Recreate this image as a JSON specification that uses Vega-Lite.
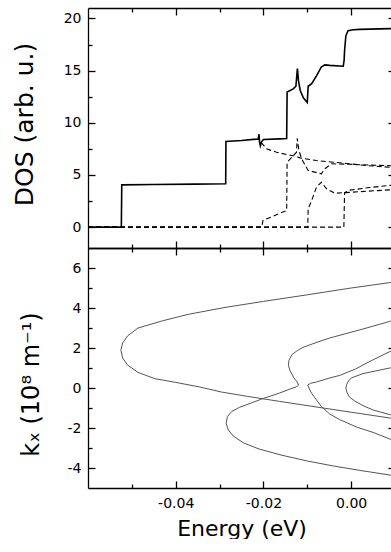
{
  "$schema": "https://vega.github.io/schema/vega-lite/v6.json",
  "padding": {"left": 12, "top": 7, "right": 0, "bottom": 0},
  "spacing": 0,
  "bounds": "flush",
  "config": {
    "view": {"stroke": null},
    "axis": {
      "grid": false,
      "domainColor": "black",
      "domainWidth": 1.3,
      "tickColor": "black",
      "tickWidth": 1.3,
      "labelFont": "DejaVu Sans",
      "labelFontSize": 14,
      "labelColor": "black",
      "titleFont": "DejaVu Sans",
      "titleFontWeight": "normal",
      "titleColor": "black",
      "minExtent": 0
    }
  },
  "datasets": {
    "solid": [
      {"E": -0.06, "v": 0}, {"E": -0.0524, "v": 0}, {"E": -0.0523, "v": 4.05}, {"E": -0.045, "v": 4.08},
      {"E": -0.0355, "v": 4.12}, {"E": -0.0286, "v": 4.15}, {"E": -0.02855, "v": 8.2}, {"E": -0.025, "v": 8.3},
      {"E": -0.0212, "v": 8.45}, {"E": -0.021, "v": 8.9}, {"E": -0.0209, "v": 8.2}, {"E": -0.0207, "v": 7.8},
      {"E": -0.0204, "v": 8.2}, {"E": -0.02, "v": 8.4}, {"E": -0.0163, "v": 8.46}, {"E": -0.0147, "v": 8.5},
      {"E": -0.0146, "v": 12.95}, {"E": -0.0132, "v": 13.25}, {"E": -0.0126, "v": 13.5}, {"E": -0.01225, "v": 15.2},
      {"E": -0.012, "v": 14.0}, {"E": -0.0116, "v": 13.1}, {"E": -0.0109, "v": 12.4}, {"E": -0.01, "v": 11.95},
      {"E": -0.0098, "v": 13.5}, {"E": -0.009, "v": 13.75}, {"E": -0.0079, "v": 14.5}, {"E": -0.0068, "v": 15.35},
      {"E": -0.006, "v": 15.55}, {"E": -0.0049, "v": 15.5}, {"E": -0.0018, "v": 15.42}, {"E": -0.0016, "v": 16.0},
      {"E": -0.0015, "v": 16.9}, {"E": -0.0012, "v": 18.34}, {"E": -0.0007, "v": 18.82}, {"E": 0.0005, "v": 18.92},
      {"E": 0.002, "v": 18.95}, {"E": 0.0088, "v": 19.02}, {"E": 0.01, "v": 19.03}
    ],
    "dashed": [
      {"s": "A", "E": -0.0205, "v": 8.1}, {"s": "A", "E": -0.0193, "v": 7.5}, {"s": "A", "E": -0.017, "v": 7.18},
      {"s": "A", "E": -0.0147, "v": 6.96}, {"s": "A", "E": -0.0125, "v": 6.77}, {"s": "A", "E": -0.0117, "v": 6.64},
      {"s": "A", "E": -0.0079, "v": 6.38}, {"s": "A", "E": -0.0041, "v": 6.22}, {"s": "A", "E": -0.0003, "v": 6.07},
      {"s": "A", "E": 0.0035, "v": 5.9}, {"s": "A", "E": 0.0089, "v": 5.74}, {"s": "A", "E": 0.01, "v": 5.72},
      {"s": "B", "E": -0.06, "v": 0}, {"s": "B", "E": -0.0204, "v": 0}, {"s": "B", "E": -0.0201, "v": 0.64},
      {"s": "B", "E": -0.0147, "v": 1.6}, {"s": "B", "E": -0.0146, "v": 6.22}, {"s": "B", "E": -0.01245, "v": 7.18},
      {"s": "B", "E": -0.0123, "v": 8.5}, {"s": "B", "E": -0.0119, "v": 7.34}, {"s": "B", "E": -0.0113, "v": 6.55},
      {"s": "B", "E": -0.0098, "v": 5.43}, {"s": "B", "E": -0.0068, "v": 5.11}, {"s": "B", "E": -0.006, "v": 5.59},
      {"s": "B", "E": -0.0045, "v": 6.07}, {"s": "B", "E": -0.0003, "v": 6.02}, {"s": "B", "E": 0.0089, "v": 5.88},
      {"s": "B", "E": 0.01, "v": 5.87},
      {"s": "D", "E": -0.06, "v": 0}, {"s": "D", "E": -0.0099, "v": 0}, {"s": "D", "E": -0.0098, "v": 1.76},
      {"s": "D", "E": -0.009, "v": 2.55}, {"s": "D", "E": -0.0079, "v": 3.83}, {"s": "D", "E": -0.0068, "v": 4.3},
      {"s": "D", "E": -0.0056, "v": 3.67}, {"s": "D", "E": -0.0037, "v": 3.25}, {"s": "D", "E": -0.0016, "v": 3.3},
      {"s": "D", "E": 0.004, "v": 3.45}, {"s": "D", "E": 0.01, "v": 3.6},
      {"s": "F", "E": -0.06, "v": 0}, {"s": "F", "E": -0.00166, "v": 0}, {"s": "F", "E": -0.0015, "v": 3.3},
      {"s": "F", "E": -0.0003, "v": 3.55}, {"s": "F", "E": 0.0043, "v": 3.8}, {"s": "F", "E": 0.0089, "v": 4.0},
      {"s": "F", "E": 0.01, "v": 4.02}
    ],
    "kx": [
      {"c": "1", "E": 0.01, "k": 5.32}, {"c": "1", "E": 0.0088, "k": 5.27}, {"c": "1", "E": 0.0, "k": 5.0},
      {"c": "1", "E": -0.01, "k": 4.66}, {"c": "1", "E": -0.02, "k": 4.33}, {"c": "1", "E": -0.029, "k": 4.02},
      {"c": "1", "E": -0.0372, "k": 3.68}, {"c": "1", "E": -0.043, "k": 3.36}, {"c": "1", "E": -0.0486, "k": 3.0},
      {"c": "1", "E": -0.051, "k": 2.6}, {"c": "1", "E": -0.0521, "k": 2.25}, {"c": "1", "E": -0.0525, "k": 1.88},
      {"c": "1", "E": -0.0521, "k": 1.5}, {"c": "1", "E": -0.051, "k": 1.15}, {"c": "1", "E": -0.0486, "k": 0.78},
      {"c": "1", "E": -0.0448, "k": 0.47}, {"c": "1", "E": -0.04, "k": 0.28}, {"c": "1", "E": -0.0345, "k": 0.05},
      {"c": "1", "E": -0.0296, "k": -0.2}, {"c": "1", "E": -0.0236, "k": -0.42}, {"c": "1", "E": -0.0163, "k": -0.67},
      {"c": "1", "E": -0.0064, "k": -1.0}, {"c": "1", "E": 0.0, "k": -1.21}, {"c": "1", "E": 0.0088, "k": -1.5},
      {"c": "1", "E": 0.01, "k": -1.54},
      {"c": "2", "E": 0.01, "k": -4.39}, {"c": "2", "E": 0.0088, "k": -4.35}, {"c": "2", "E": 0.002, "k": -4.12},
      {"c": "2", "E": -0.004, "k": -3.9}, {"c": "2", "E": -0.01, "k": -3.65}, {"c": "2", "E": -0.016, "k": -3.35},
      {"c": "2", "E": -0.021, "k": -3.05}, {"c": "2", "E": -0.0245, "k": -2.75}, {"c": "2", "E": -0.0269, "k": -2.4},
      {"c": "2", "E": -0.028, "k": -2.1}, {"c": "2", "E": -0.0285, "k": -1.76}, {"c": "2", "E": -0.0282, "k": -1.42},
      {"c": "2", "E": -0.0272, "k": -1.17}, {"c": "2", "E": -0.0255, "k": -0.97}, {"c": "2", "E": -0.023, "k": -0.77},
      {"c": "2", "E": -0.0204, "k": -0.55}, {"c": "2", "E": -0.0163, "k": -0.25}, {"c": "2", "E": -0.014, "k": -0.06},
      {"c": "2", "E": -0.0125, "k": 0.06}, {"c": "2", "E": -0.012, "k": 0.14}, {"c": "2", "E": -0.0123, "k": 0.3},
      {"c": "2", "E": -0.0131, "k": 0.52}, {"c": "2", "E": -0.0139, "k": 0.85}, {"c": "2", "E": -0.0143, "k": 1.12},
      {"c": "2", "E": -0.0142, "k": 1.37}, {"c": "2", "E": -0.0135, "k": 1.67}, {"c": "2", "E": -0.0122, "k": 1.88},
      {"c": "2", "E": -0.011, "k": 2.03}, {"c": "2", "E": -0.008, "k": 2.27}, {"c": "2", "E": -0.0049, "k": 2.5},
      {"c": "2", "E": 0.0027, "k": 2.95}, {"c": "2", "E": 0.0088, "k": 3.33}, {"c": "2", "E": 0.01, "k": 3.4},
      {"c": "3", "E": 0.01, "k": 1.92}, {"c": "3", "E": 0.0088, "k": 1.82}, {"c": "3", "E": 0.004, "k": 1.3},
      {"c": "3", "E": 0.001, "k": 0.95}, {"c": "3", "E": -0.0026, "k": 0.63}, {"c": "3", "E": -0.0049, "k": 0.5},
      {"c": "3", "E": -0.0079, "k": 0.3}, {"c": "3", "E": -0.0092, "k": 0.24}, {"c": "3", "E": -0.0099, "k": 0.15},
      {"c": "3", "E": -0.0096, "k": 0.0}, {"c": "3", "E": -0.0092, "k": -0.2}, {"c": "3", "E": -0.0085, "k": -0.42},
      {"c": "3", "E": -0.0079, "k": -0.6}, {"c": "3", "E": -0.0068, "k": -0.92}, {"c": "3", "E": -0.0049, "k": -1.3},
      {"c": "3", "E": -0.0026, "k": -1.58}, {"c": "3", "E": 0.0012, "k": -1.95}, {"c": "3", "E": 0.005, "k": -2.22},
      {"c": "3", "E": 0.0088, "k": -2.55}, {"c": "3", "E": 0.01, "k": -2.62},
      {"c": "4", "E": 0.01, "k": 1.05}, {"c": "4", "E": 0.0088, "k": 1.0}, {"c": "4", "E": 0.0027, "k": 0.72},
      {"c": "4", "E": 0.0, "k": 0.5}, {"c": "4", "E": -0.0006, "k": 0.35}, {"c": "4", "E": -0.001, "k": 0.18},
      {"c": "4", "E": -0.0012, "k": 0.0}, {"c": "4", "E": -0.001, "k": -0.2}, {"c": "4", "E": -0.0004, "k": -0.45},
      {"c": "4", "E": 0.0008, "k": -0.65}, {"c": "4", "E": 0.0027, "k": -0.88}, {"c": "4", "E": 0.005, "k": -1.1},
      {"c": "4", "E": 0.0088, "k": -1.33}, {"c": "4", "E": 0.01, "k": -1.37}
    ]
  },
  "vconcat": [
    {
      "width": 307,
      "height": 240,
      "resolve": {"axis": {"x": "independent", "y": "independent"}},
      "layer": [
        {
          "data": {"name": "solid"},
          "mark": {"type": "line", "color": "black", "strokeWidth": 1.6, "clip": true},
          "encoding": {
            "x": {"field": "E", "type": "quantitative", "scale": {"domain": [-0.06, 0.01], "nice": false, "zero": false},
                  "axis": {"orient": "bottom", "ticks": false, "labels": false, "domain": true, "title": null, "values": [-0.04, -0.02, 0]}},
            "y": {"field": "v", "type": "quantitative", "scale": {"domain": [-2, 21], "nice": false, "zero": false},
                  "axis": {"orient": "left", "ticks": false, "domain": true, "values": [0, 5, 10, 15, 20], "title": "DOS (arb. u.)",
                           "titleFontSize": 25, "titlePadding": 26, "labelPadding": 7, "titleY": 116}},
            "order": {"value": null}
          }
        },
        {
          "data": {"name": "dashed"},
          "mark": {"type": "line", "color": "black", "strokeWidth": 1.1, "strokeDash": [5, 3], "clip": true},
          "encoding": {
            "x": {"field": "E", "type": "quantitative", "scale": {"domain": [-0.06, 0.01], "nice": false, "zero": false},
                  "axis": {"orient": "top", "offset": -240, "ticks": true, "tickSize": 7, "labels": false, "domain": false, "title": null, "values": [-0.04, -0.02, 0]}},
            "y": {"field": "v", "type": "quantitative", "scale": {"domain": [-2, 21], "nice": false, "zero": false},
                  "axis": {"orient": "right", "offset": -307, "ticks": true, "tickSize": 7, "labels": false, "domain": false, "title": null, "values": [0, 5, 10, 15, 20]}},
            "detail": {"field": "s"},
            "order": {"value": null}
          }
        },
        {
          "data": {"name": "solid"},
          "mark": {"type": "line", "opacity": 0, "clip": true},
          "encoding": {
            "x": {"field": "E", "type": "quantitative", "scale": {"domain": [-0.06, 0.01], "nice": false, "zero": false},
                  "axis": {"orient": "top", "offset": -240, "ticks": true, "tickSize": 4, "labels": false, "domain": false, "title": null, "values": [-0.05, -0.03, -0.01]}},
            "y": {"field": "v", "type": "quantitative", "scale": {"domain": [-2, 21], "nice": false, "zero": false},
                  "axis": {"orient": "right", "offset": -307, "ticks": true, "tickSize": 4, "labels": false, "domain": false, "title": null, "values": [2.5, 7.5, 12.5, 17.5]}},
            "order": {"value": null}
          }
        },
        {
          "data": {"name": "solid"},
          "mark": {"type": "line", "opacity": 0, "clip": true},
          "encoding": {
            "x": {"field": "E", "type": "quantitative", "scale": {"domain": [-0.06, 0.01], "nice": false, "zero": false},
                  "axis": {"orient": "bottom", "offset": -240, "ticks": true, "tickSize": 7, "labels": false, "domain": true, "title": null, "values": [-0.04, -0.02, 0]}},
            "y": {"field": "v", "type": "quantitative", "scale": {"domain": [-2, 21], "nice": false, "zero": false},
                  "axis": {"orient": "left", "offset": -307, "ticks": true, "tickSize": 7, "labels": false, "domain": true, "title": null, "values": [0, 5, 10, 15, 20]}},
            "order": {"value": null}
          }
        },
        {
          "data": {"name": "solid"},
          "mark": {"type": "line", "opacity": 0, "clip": true},
          "encoding": {
            "x": {"field": "E", "type": "quantitative", "scale": {"domain": [-0.06, 0.01], "nice": false, "zero": false},
                  "axis": {"orient": "bottom", "offset": -240, "ticks": true, "tickSize": 4, "labels": false, "domain": false, "title": null, "values": [-0.05, -0.03, -0.01]}},
            "y": {"field": "v", "type": "quantitative", "scale": {"domain": [-2, 21], "nice": false, "zero": false},
                  "axis": {"orient": "left", "offset": -307, "ticks": true, "tickSize": 4, "labels": false, "domain": false, "title": null, "values": [2.5, 7.5, 12.5, 17.5]}},
            "order": {"value": null}
          }
        }
      ]
    },
    {
      "width": 307,
      "height": 240,
      "resolve": {"axis": {"x": "independent", "y": "independent"}},
      "layer": [
        {
          "data": {"name": "kx"},
          "mark": {"type": "line", "color": "#555555", "strokeWidth": 1, "clip": true},
          "encoding": {
            "x": {"field": "E", "type": "quantitative", "scale": {"domain": [-0.06, 0.01], "nice": false, "zero": false},
                  "axis": {"orient": "bottom", "ticks": false, "labels": true, "domain": true, "title": "Energy (eV)", "titleFontSize": 22,
                           "titlePadding": 8, "labelPadding": 8, "values": [-0.04, -0.02, 0],
                           "labelExpr": "replace(format(datum.value, '.2f'), '\u2212', '-')"}},
            "y": {"field": "k", "type": "quantitative", "scale": {"domain": [-5, 7], "nice": false, "zero": false},
                  "axis": {"orient": "left", "ticks": false, "domain": true, "values": [-4, -2, 0, 2, 4, 6], "title": "kₓ (10⁸ m⁻¹)",
                           "titleFontSize": 24, "titlePadding": 24, "labelPadding": 7, "titleY": 136,
                           "labelExpr": "replace(datum.label, '\u2212', '-')"}},
            "detail": {"field": "c"},
            "order": {"value": null}
          }
        },
        {
          "data": {"name": "kx"},
          "mark": {"type": "line", "opacity": 0, "clip": true},
          "encoding": {
            "x": {"field": "E", "type": "quantitative", "scale": {"domain": [-0.06, 0.01], "nice": false, "zero": false},
                  "axis": {"orient": "top", "offset": -240, "ticks": true, "tickSize": 7, "labels": false, "domain": false, "title": null, "values": [-0.04, -0.02, 0]}},
            "y": {"field": "k", "type": "quantitative", "scale": {"domain": [-5, 7], "nice": false, "zero": false},
                  "axis": {"orient": "right", "offset": -307, "ticks": true, "tickSize": 7, "labels": false, "domain": false, "title": null, "values": [-4, -2, 0, 2, 4, 6]}},
            "detail": {"field": "c"},
            "order": {"value": null}
          }
        },
        {
          "data": {"name": "kx"},
          "mark": {"type": "line", "opacity": 0, "clip": true},
          "encoding": {
            "x": {"field": "E", "type": "quantitative", "scale": {"domain": [-0.06, 0.01], "nice": false, "zero": false},
                  "axis": {"orient": "top", "offset": -240, "ticks": true, "tickSize": 4, "labels": false, "domain": false, "title": null, "values": [-0.05, -0.03, -0.01]}},
            "y": {"field": "k", "type": "quantitative", "scale": {"domain": [-5, 7], "nice": false, "zero": false},
                  "axis": {"orient": "right", "offset": -307, "ticks": true, "tickSize": 4, "labels": false, "domain": false, "title": null, "values": [-3, -1, 1, 3, 5]}},
            "detail": {"field": "c"},
            "order": {"value": null}
          }
        },
        {
          "data": {"name": "kx"},
          "mark": {"type": "line", "opacity": 0, "clip": true},
          "encoding": {
            "x": {"field": "E", "type": "quantitative", "scale": {"domain": [-0.06, 0.01], "nice": false, "zero": false},
                  "axis": {"orient": "bottom", "offset": -240, "ticks": true, "tickSize": 7, "labels": false, "domain": true, "title": null, "values": [-0.04, -0.02, 0]}},
            "y": {"field": "k", "type": "quantitative", "scale": {"domain": [-5, 7], "nice": false, "zero": false},
                  "axis": {"orient": "left", "offset": -307, "ticks": true, "tickSize": 7, "labels": false, "domain": true, "title": null, "values": [-4, -2, 0, 2, 4, 6]}},
            "detail": {"field": "c"},
            "order": {"value": null}
          }
        },
        {
          "data": {"name": "kx"},
          "mark": {"type": "line", "opacity": 0, "clip": true},
          "encoding": {
            "x": {"field": "E", "type": "quantitative", "scale": {"domain": [-0.06, 0.01], "nice": false, "zero": false},
                  "axis": {"orient": "bottom", "offset": -240, "ticks": true, "tickSize": 4, "labels": false, "domain": false, "title": null, "values": [-0.05, -0.03, -0.01]}},
            "y": {"field": "k", "type": "quantitative", "scale": {"domain": [-5, 7], "nice": false, "zero": false},
                  "axis": {"orient": "left", "offset": -307, "ticks": true, "tickSize": 4, "labels": false, "domain": false, "title": null, "values": [-3, -1, 1, 3, 5]}},
            "detail": {"field": "c"},
            "order": {"value": null}
          }
        }
      ]
    }
  ]
}
